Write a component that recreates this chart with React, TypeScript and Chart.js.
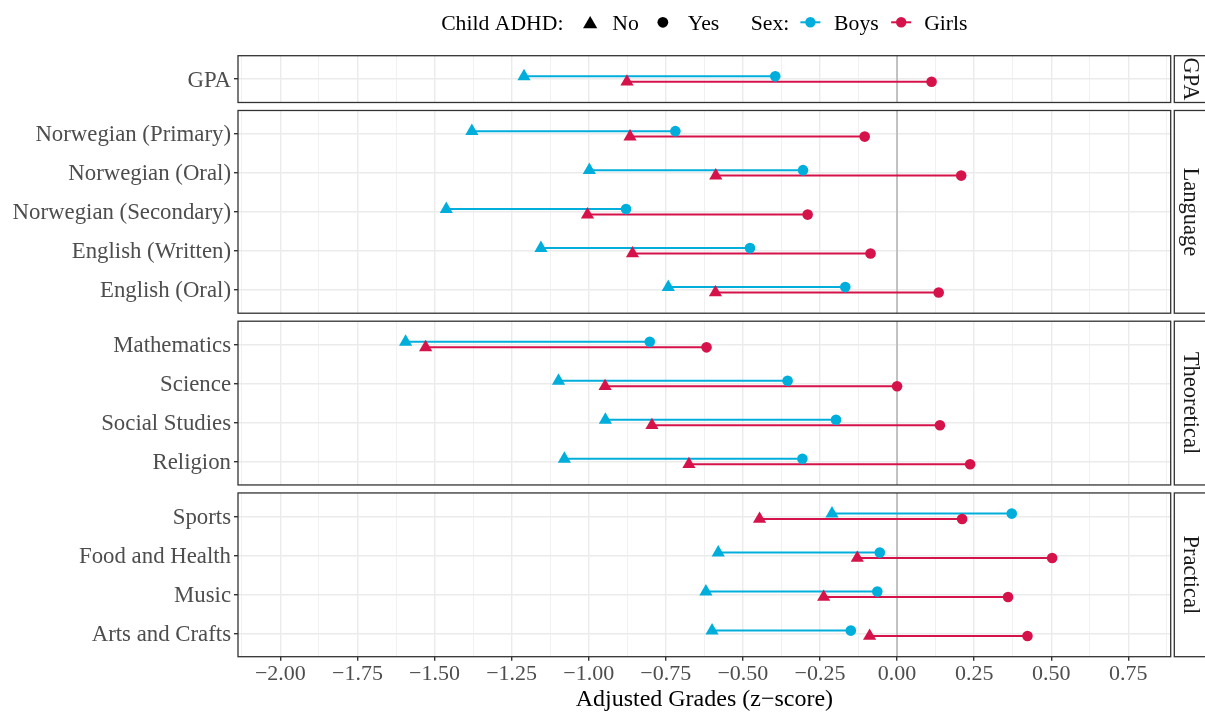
import React, { useEffect, useRef } from "react";
import { Chart, registerables } from "chart.js";

Chart.register(...registerables);

const FONT = '"Liberation Serif", "Times New Roman", serif';
const W = 1205;
const H = 713;

// ---------------- data ----------------
const panelNames = ["GPA", "Language", "Theoretical", "Practical"];

const categories = [
  "GPA",
  "Norwegian (Primary)",
  "Norwegian (Oral)",
  "Norwegian (Secondary)",
  "English (Written)",
  "English (Oral)",
  "Mathematics",
  "Science",
  "Social Studies",
  "Religion",
  "Sports",
  "Food and Health",
  "Music",
  "Arts and Crafts",
];

const categoryPanel = [0, 1, 1, 1, 1, 1, 2, 2, 2, 2, 3, 3, 3, 3];

const boysNo = [-1.21, -1.379, -0.998, -1.462, -1.155, -0.742, -1.594, -1.098, -0.946, -1.079, -0.211, -0.58, -0.62, -0.6];
const boysYes = [-0.395, -0.719, -0.305, -0.879, -0.477, -0.168, -0.802, -0.355, -0.198, -0.307, 0.372, -0.056, -0.064, -0.15];
const girlsNo = [-0.876, -0.866, -0.588, -1.004, -0.858, -0.589, -1.529, -0.947, -0.795, -0.675, -0.446, -0.129, -0.238, -0.089];
const girlsYes = [0.112, -0.105, 0.208, -0.29, -0.086, 0.135, -0.618, 0.0, 0.139, 0.237, 0.211, 0.503, 0.36, 0.423];

const sexNames = ["Boys", "Girls"];
const sexColors = ["#00AEDB", "#D5134A"];
const adhdLabels = ["No", "Yes"];
const legendTitles = ["Child ADHD:", "Sex:"];
const axisTitle = "Adjusted Grades (z\u2212score)";

const xMajorTicks = [-2, -1.75, -1.5, -1.25, -1, -0.75, -0.5, -0.25, 0, 0.25, 0.5, 0.75];
const xMinorTicks = [-2.125, -1.875, -1.625, -1.375, -1.125, -0.875, -0.625, -0.375, -0.125, 0.125, 0.375, 0.625, 0.875];
const X_MIN = -2.1375;
const X_MAX = 0.8875;

// ---------------- layout (in y-units) ----------------
const PAD = 0.6;
const GAP = 0.205;
const DODGE = 0.07;

const catPos: number[] = [];
const panelRanges: { start: number; end: number }[] = [];
let cursor = 0;
panelNames.forEach((_, p) => {
  const idx = categories.map((_, i) => i).filter((i) => categoryPanel[i] === p);
  const start = cursor;
  idx.forEach((i, k) => {
    catPos[i] = start + PAD + k;
  });
  const end = start + 2 * PAD + idx.length - 1;
  panelRanges.push({ start, end });
  cursor = end + GAP;
});
const Y_MAX = cursor - GAP;

const PLOT_LEFT = 238;
const PLOT_RIGHT = 1170.7;
const PLOT_TOP = 55.7;
const PLOT_BOTTOM = 656.7;

const isMajor = (v: number) => Math.abs(v * 4 - Math.round(v * 4)) < 1e-6;
const fmt = (v: number) => (v < -1e-9 ? "\u2212" : "") + Math.abs(v).toFixed(2);

function drawTri(ctx: CanvasRenderingContext2D, x: number, y: number, r: number) {
  ctx.beginPath();
  ctx.moveTo(x, y - r);
  ctx.lineTo(x + r * Math.sin((2 * Math.PI) / 3), y - r * Math.cos((2 * Math.PI) / 3));
  ctx.lineTo(x + r * Math.sin((4 * Math.PI) / 3), y - r * Math.cos((4 * Math.PI) / 3));
  ctx.closePath();
  ctx.fill();
}
function drawCircle(ctx: CanvasRenderingContext2D, x: number, y: number, r: number) {
  ctx.beginPath();
  ctx.arc(x, y, r, 0, Math.PI * 2);
  ctx.fill();
}

const panelPlugin = {
  id: "panelPlugin",
  beforeDatasetsDraw(chart: any) {
    const { ctx, chartArea, scales } = chart;
    const y = scales.y;
    const x = scales.x;
    ctx.save();
    // mask gaps between panels
    ctx.fillStyle = "#ffffff";
    for (let p = 0; p < panelRanges.length - 1; p++) {
      const t = y.getPixelForValue(panelRanges[p].end);
      const b = y.getPixelForValue(panelRanges[p + 1].start);
      ctx.fillRect(chartArea.left - 1, t, chartArea.right - chartArea.left + 2, b - t);
    }
    // zero line
    const x0 = x.getPixelForValue(0);
    ctx.strokeStyle = "#A8A8A8";
    ctx.lineWidth = 1.3;
    panelRanges.forEach((r) => {
      ctx.beginPath();
      ctx.moveTo(x0, y.getPixelForValue(r.start));
      ctx.lineTo(x0, y.getPixelForValue(r.end));
      ctx.stroke();
    });
    ctx.restore();
  },
  afterDraw(chart: any) {
    const { ctx, chartArea, scales } = chart;
    const y = scales.y;
    ctx.save();
    // panel borders + strips
    panelRanges.forEach((r, p) => {
      const t = y.getPixelForValue(r.start);
      const b = y.getPixelForValue(r.end);
      ctx.strokeStyle = "#333333";
      ctx.lineWidth = 1.3;
      ctx.strokeRect(chartArea.left, t, chartArea.right - chartArea.left, b - t);
      // strip
      const sx = chartArea.right + 3.6;
      ctx.fillStyle = "#ffffff";
      ctx.fillRect(sx, t, W + 5 - sx, b - t);
      ctx.strokeRect(sx, t, W + 5 - sx, b - t);
      ctx.save();
      ctx.translate(sx + 9.2, (t + b) / 2);
      ctx.rotate(Math.PI / 2);
      ctx.fillStyle = "#1A1A1A";
      ctx.font = `22.5px ${FONT}`;
      ctx.textAlign = "center";
      ctx.textBaseline = "alphabetic";
      ctx.fillText(panelNames[p], 0, 0);
      ctx.restore();
    });

    // axis title
    ctx.fillStyle = "#000000";
    ctx.font = `24px ${FONT}`;
    ctx.textAlign = "center";
    ctx.textBaseline = "alphabetic";
    ctx.fillText(axisTitle, (chartArea.left + chartArea.right) / 2, 706);

    // legend
    ctx.font = `21.7px ${FONT}`;
    ctx.textAlign = "left";
    const baseY = 29.6;
    const keyY = 22.3;
    type Item = { kind: "text"; s: string } | { kind: "gap"; w: number } | { kind: "key"; draw: (cx: number) => void };
    const items: Item[] = [
      { kind: "text", s: legendTitles[0] },
      { kind: "gap", w: 26.7 },
      { kind: "key", draw: (cx) => { ctx.fillStyle = "#000"; drawTri(ctx, cx, keyY + 1.8, 8.2); } },
      { kind: "gap", w: 22.2 },
      { kind: "text", s: adhdLabels[0] },
      { kind: "gap", w: 24.0 },
      { kind: "key", draw: (cx) => { ctx.fillStyle = "#000"; drawCircle(ctx, cx, keyY, 5.4); } },
      { kind: "gap", w: 24.8 },
      { kind: "text", s: adhdLabels[1] },
      { kind: "gap", w: 31.5 },
      { kind: "text", s: legendTitles[1] },
      { kind: "gap", w: 21.1 },
      {
        kind: "key",
        draw: (cx) => {
          ctx.strokeStyle = sexColors[0];
          ctx.lineWidth = 2;
          ctx.beginPath(); ctx.moveTo(cx - 10, keyY); ctx.lineTo(cx + 10, keyY); ctx.stroke();
          ctx.fillStyle = sexColors[0];
          drawCircle(ctx, cx, keyY, 5.2);
        },
      },
      { kind: "gap", w: 23.7 },
      { kind: "text", s: sexNames[0] },
      { kind: "gap", w: 22.5 },
      {
        kind: "key",
        draw: (cx) => {
          ctx.strokeStyle = sexColors[1];
          ctx.lineWidth = 2;
          ctx.beginPath(); ctx.moveTo(cx - 10, keyY); ctx.lineTo(cx + 10, keyY); ctx.stroke();
          ctx.fillStyle = sexColors[1];
          drawCircle(ctx, cx, keyY, 5.2);
        },
      },
      { kind: "gap", w: 23.0 },
      { kind: "text", s: sexNames[1] },
    ];
    let total = 0;
    items.forEach((it) => {
      if (it.kind === "text") total += ctx.measureText(it.s).width;
      else if (it.kind === "gap") total += it.w;
    });
    let cx = (chartArea.left + chartArea.right) / 2 - total / 2;
    items.forEach((it) => {
      if (it.kind === "text") {
        ctx.fillStyle = "#000000";
        ctx.fillText(it.s, cx, baseY);
        cx += ctx.measureText(it.s).width;
      } else if (it.kind === "gap") {
        cx += it.w;
      } else {
        it.draw(cx);
      }
    });
    ctx.restore();
  },
};

function buildDatasets() {
  const series = [
    { no: boysNo, yes: boysYes, color: sexColors[0], dy: -DODGE },
    { no: girlsNo, yes: girlsYes, color: sexColors[1], dy: DODGE },
  ];
  const ds: any[] = [];
  series.forEach((s, si) => {
    categories.forEach((c, i) => {
      ds.push({
        label: `${sexNames[si]} ${c}`,
        data: [
          { x: s.no[i], y: catPos[i] + s.dy },
          { x: s.yes[i], y: catPos[i] + s.dy },
        ],
        showLine: true,
        borderColor: s.color,
        borderWidth: 2,
        pointRadius: 0,
        order: 4 - si,
      });
    });
  });
  series.forEach((s, si) => {
    const data: any[] = [];
    const styles: string[] = [];
    const radii: number[] = [];
    categories.forEach((_, i) => {
      data.push({ x: s.no[i], y: catPos[i] + s.dy });
      styles.push("triangle");
      radii.push(7.6);
      data.push({ x: s.yes[i], y: catPos[i] + s.dy });
      styles.push("circle");
      radii.push(5.3);
    });
    ds.push({
      label: sexNames[si],
      data,
      showLine: false,
      pointStyle: styles,
      pointRadius: radii,
      pointBackgroundColor: s.color,
      pointBorderWidth: 0,
      order: 2 - si,
    });
  });
  return ds;
}

export default function App() {
  const ref = useRef<HTMLCanvasElement | null>(null);
  useEffect(() => {
    if (!ref.current) return;
    const chart = new Chart(ref.current, {
      type: "scatter",
      data: { datasets: buildDatasets() },
      options: {
        responsive: false,
        maintainAspectRatio: false,
        animation: false,
        events: [],
        layout: { padding: { top: PLOT_TOP, right: W - PLOT_RIGHT, left: 0, bottom: 0 } },
        plugins: { legend: { display: false }, tooltip: { enabled: false } },
        scales: {
          x: {
            type: "linear",
            min: X_MIN,
            max: X_MAX,
            afterBuildTicks: (scale: any) => {
              scale.ticks = [...xMinorTicks, ...xMajorTicks].sort((a, b) => a - b).map((v) => ({ value: v }));
            },
            afterFit: (scale: any) => {
              scale.height = H - PLOT_BOTTOM;
            },
            ticks: {
              autoSkip: false,
              maxRotation: 0,
              minRotation: 0,
              padding: 0,
              color: "#4D4D4D",
              font: { family: FONT, size: 22 },
              callback: (v: any) => (isMajor(Number(v)) ? fmt(Number(v)) : ""),
            },
            grid: {
              color: "#EBEBEB",
              lineWidth: (c: any) => (c.tick && isMajor(c.tick.value) ? 1.4 : 0.7),
              tickColor: (c: any) => (c.tick && isMajor(c.tick.value) ? "#333333" : "rgba(0,0,0,0)"),
              tickLength: 4,
            },
            border: { display: false },
          },
          y: {
            type: "linear",
            reverse: true,
            min: 0,
            max: Y_MAX,
            afterBuildTicks: (scale: any) => {
              scale.ticks = catPos.map((v) => ({ value: v }));
            },
            afterFit: (scale: any) => {
              scale.width = PLOT_LEFT;
            },
            ticks: {
              autoSkip: false,
              padding: 3,
              labelOffset: 1.5,
              color: "#4D4D4D",
              font: { family: FONT, size: 22.8 },
              callback: (_v: any, i: number) => categories[i],
            },
            grid: {
              color: "#EBEBEB",
              lineWidth: 1.4,
              tickColor: "#333333",
              tickLength: 4,
            },
            border: { display: false },
          },
        },
      } as any,
      plugins: [panelPlugin],
    });
    return () => chart.destroy();
  }, []);
  return (
    <div style={{ position: "absolute", left: 0, top: 0, width: W, height: H, background: "#fff" }}>
      <canvas ref={ref} width={W} height={H} style={{ display: "block" }} />
    </div>
  );
}
